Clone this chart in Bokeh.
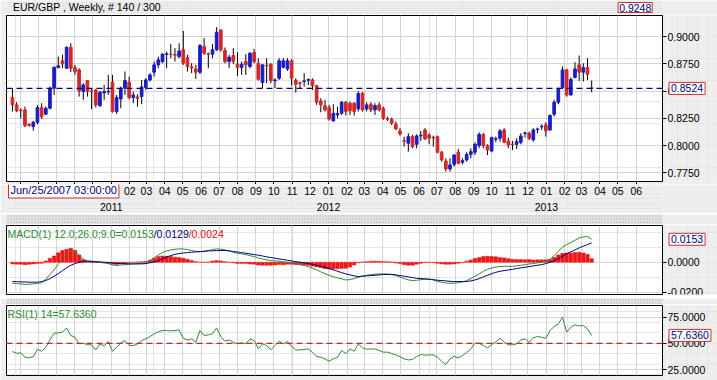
import pandas as pd
from bokeh.plotting import figure
from bokeh.layouts import column, row
from bokeh.models import (Range1d, LinearAxis, FixedTicker, Grid, Span, Label,
                          CustomJSTickFormatter, BoxAnnotation, ColumnDataSource)
from bokeh.core.properties import value
from bokeh.embed import file_html
from bokeh.resources import INLINE

# ---------------- data ----------------
symbol_title = "EUR/GBP , Weekly, # 140 / 300"
cursor_date = "Jun/25/2007 03:00:00"
top_price = "0.9248"
first_week = "2010-07-19"
view_start = "2010-07-09"
view_end = "2013-07-15"
first_month = "2010-08-01"
last_month = "2013-06-01"

open_ = [
    0.8440, 0.8373, 0.8325, 0.8327, 0.8195, 0.8174, 0.8214, 0.8348, 0.8287, 0.8342,
    0.8526, 0.8715, 0.8777, 0.8709, 0.8902, 0.8715, 0.8694, 0.8495, 0.8596, 0.8501,
    0.8510, 0.8366, 0.8483, 0.8492, 0.8581, 0.8312, 0.8428, 0.8526, 0.8581, 0.8440,
    0.8446, 0.8449, 0.8532, 0.8602, 0.8673, 0.8740, 0.8770, 0.8835, 0.8838, 0.8835,
    0.8816, 0.8878, 0.8807, 0.8722, 0.8703, 0.8673, 0.8908, 0.8844, 0.8838, 0.8878,
    0.9061, 0.8872, 0.8770, 0.8826, 0.8746, 0.8715, 0.8770, 0.8725, 0.8856, 0.8755,
    0.8578, 0.8737, 0.8746, 0.8593, 0.8617, 0.8718, 0.8703, 0.8777, 0.8599, 0.8575,
    0.8587, 0.8599, 0.8602, 0.8550, 0.8409, 0.8366, 0.8348, 0.8226, 0.8281, 0.8296,
    0.8397, 0.8388, 0.8388, 0.8336, 0.8480, 0.8336, 0.8379, 0.8327, 0.8373, 0.8342,
    0.8247, 0.8241, 0.8198, 0.8134, 0.8045, 0.8021, 0.8082, 0.8011, 0.8088, 0.8143,
    0.8097, 0.8076, 0.8082, 0.7938, 0.7858, 0.7785, 0.7828, 0.7938, 0.7846, 0.7867,
    0.7919, 0.7938, 0.7999, 0.8103, 0.7999, 0.7950, 0.8058, 0.8067, 0.8143, 0.8042,
    0.8014, 0.8011, 0.8030, 0.8110, 0.8113, 0.8051, 0.8146, 0.8171, 0.8189, 0.8143,
    0.8287, 0.8397, 0.8532, 0.8694, 0.8464, 0.8624, 0.8740, 0.8673, 0.8715, 0.8530]

close = [
    0.8373, 0.8321, 0.8318, 0.8183, 0.8183, 0.8214, 0.8348, 0.8265, 0.8342, 0.8526,
    0.8718, 0.8731, 0.8749, 0.8902, 0.8709, 0.8679, 0.8501, 0.8556, 0.8495, 0.8498,
    0.8373, 0.8489, 0.8495, 0.8498, 0.8312, 0.8440, 0.8526, 0.8596, 0.8440, 0.8464,
    0.8434, 0.8538, 0.8602, 0.8648, 0.8740, 0.8786, 0.8838, 0.8841, 0.8835, 0.8829,
    0.8868, 0.8755, 0.8725, 0.8712, 0.8673, 0.8917, 0.8847, 0.8838, 0.8878, 0.9040,
    0.8878, 0.8770, 0.8810, 0.8770, 0.8715, 0.8746, 0.8740, 0.8847, 0.8770, 0.8608,
    0.8740, 0.8731, 0.8596, 0.8602, 0.8777, 0.8777, 0.8777, 0.8617, 0.8562, 0.8569,
    0.8593, 0.8605, 0.8550, 0.8397, 0.8373, 0.8327, 0.8244, 0.8296, 0.8293, 0.8397,
    0.8312, 0.8318, 0.8312, 0.8477, 0.8327, 0.8373, 0.8327, 0.8366, 0.8327, 0.8250,
    0.8241, 0.8205, 0.8152, 0.8106, 0.8039, 0.8082, 0.7990, 0.8088, 0.8094, 0.8060,
    0.8067, 0.8070, 0.7938, 0.7868, 0.7785, 0.7822, 0.7913, 0.7837, 0.7861, 0.7919,
    0.7944, 0.8011, 0.8103, 0.7999, 0.7959, 0.8073, 0.8064, 0.8134, 0.8030, 0.8005,
    0.8008, 0.8036, 0.8088, 0.8116, 0.8067, 0.8143, 0.8152, 0.8177, 0.8134, 0.8275,
    0.8397, 0.8520, 0.8694, 0.8464, 0.8608, 0.8703, 0.8673, 0.8715, 0.8654, 0.8524]

high = [
    0.8526, 0.8397, 0.8342, 0.8357, 0.8204, 0.8226, 0.8373, 0.8388, 0.8357, 0.8541,
    0.8725, 0.8816, 0.8832, 0.8908, 0.8939, 0.8740, 0.8709, 0.8572, 0.8602, 0.8526,
    0.8519, 0.8501, 0.8556, 0.8648, 0.8648, 0.8464, 0.8541, 0.8679, 0.8633, 0.8495,
    0.8471, 0.8602, 0.8617, 0.8664, 0.8770, 0.8816, 0.8847, 0.8862, 0.8930, 0.8893,
    0.8939, 0.9052, 0.8832, 0.8755, 0.8740, 0.8930, 0.8985, 0.8853, 0.8930, 0.9086,
    0.9061, 0.8899, 0.8832, 0.8893, 0.8856, 0.8770, 0.8838, 0.8856, 0.8887, 0.8801,
    0.8746, 0.8801, 0.8755, 0.8617, 0.8801, 0.8801, 0.8801, 0.8792, 0.8617, 0.8587,
    0.8664, 0.8617, 0.8617, 0.8556, 0.8434, 0.8419, 0.8373, 0.8379, 0.8357, 0.8409,
    0.8409, 0.8403, 0.8397, 0.8501, 0.8489, 0.8397, 0.8397, 0.8388, 0.8397, 0.8357,
    0.8266, 0.8256, 0.8220, 0.8159, 0.8082, 0.8113, 0.8097, 0.8103, 0.8134, 0.8159,
    0.8113, 0.8091, 0.8091, 0.7950, 0.7883, 0.7883, 0.7919, 0.7969, 0.7883, 0.7938,
    0.7975, 0.8030, 0.8121, 0.8113, 0.8011, 0.8082, 0.8082, 0.8152, 0.8159, 0.8073,
    0.8042, 0.8067, 0.8113, 0.8128, 0.8128, 0.8159, 0.8165, 0.8195, 0.8214, 0.8287,
    0.8419, 0.8532, 0.8725, 0.8703, 0.8624, 0.8764, 0.8826, 0.8755, 0.8801, 0.8596]

low = [
    0.8312, 0.8306, 0.8250, 0.8168, 0.8174, 0.8137, 0.8195, 0.8244, 0.8281, 0.8333,
    0.8464, 0.8709, 0.8709, 0.8703, 0.8673, 0.8648, 0.8449, 0.8419, 0.8449, 0.8333,
    0.8348, 0.8354, 0.8419, 0.8464, 0.8302, 0.8290, 0.8342, 0.8464, 0.8425, 0.8388,
    0.8357, 0.8379, 0.8510, 0.8587, 0.8633, 0.8709, 0.8755, 0.8709, 0.8801, 0.8770,
    0.8801, 0.8740, 0.8679, 0.8664, 0.8611, 0.8654, 0.8832, 0.8709, 0.8801, 0.8868,
    0.8862, 0.8755, 0.8709, 0.8746, 0.8639, 0.8648, 0.8648, 0.8709, 0.8755, 0.8596,
    0.8526, 0.8572, 0.8572, 0.8526, 0.8602, 0.8709, 0.8685, 0.8550, 0.8486, 0.8520,
    0.8541, 0.8556, 0.8510, 0.8373, 0.8306, 0.8312, 0.8229, 0.8220, 0.8250, 0.8281,
    0.8275, 0.8281, 0.8275, 0.8312, 0.8312, 0.8312, 0.8306, 0.8281, 0.8312, 0.8235,
    0.8226, 0.8189, 0.8143, 0.8091, 0.7990, 0.7944, 0.7975, 0.7975, 0.8042, 0.8051,
    0.8011, 0.7990, 0.7929, 0.7852, 0.7761, 0.7761, 0.7806, 0.7828, 0.7828, 0.7852,
    0.7883, 0.7913, 0.7975, 0.7975, 0.7913, 0.7938, 0.8030, 0.8036, 0.8021, 0.7975,
    0.7959, 0.7969, 0.8011, 0.8073, 0.8051, 0.8036, 0.8113, 0.8143, 0.8082, 0.8134,
    0.8266, 0.8379, 0.8520, 0.8449, 0.8458, 0.8617, 0.8593, 0.8587, 0.8602, 0.8489]

macd = [
    -0.0140, -0.0142, -0.0144, -0.0147, -0.0147, -0.0144, -0.0142, -0.0136, -0.0113, -0.0082,
    -0.0051, -0.0013, 0.0022, 0.0051, 0.0073, 0.0071, 0.0049, 0.0022, 0.0009, 0.0004,
    0.0002, 0.0000, -0.0004, -0.0009, -0.0018, -0.0022, -0.0018, -0.0016, -0.0013, -0.0011,
    -0.0009, -0.0007, -0.0004, 0.0011, 0.0029, 0.0049, 0.0064, 0.0076, 0.0082, 0.0087,
    0.0089, 0.0089, 0.0084, 0.0078, 0.0073, 0.0071, 0.0073, 0.0078, 0.0084, 0.0089,
    0.0087, 0.0082, 0.0076, 0.0067, 0.0060, 0.0056, 0.0051, 0.0044, 0.0038, 0.0029,
    0.0022, 0.0016, 0.0011, 0.0009, 0.0007, 0.0002, 0.0000, -0.0004, -0.0011, -0.0016,
    -0.0022, -0.0029, -0.0040, -0.0051, -0.0064, -0.0076, -0.0087, -0.0096, -0.0104, -0.0111,
    -0.0118, -0.0116, -0.0109, -0.0100, -0.0091, -0.0087, -0.0082, -0.0080, -0.0078, -0.0078,
    -0.0078, -0.0080, -0.0089, -0.0098, -0.0109, -0.0118, -0.0122, -0.0120, -0.0116, -0.0113,
    -0.0113, -0.0118, -0.0127, -0.0133, -0.0138, -0.0140, -0.0140, -0.0136, -0.0131, -0.0122,
    -0.0109, -0.0093, -0.0078, -0.0060, -0.0047, -0.0038, -0.0031, -0.0029, -0.0027, -0.0027,
    -0.0027, -0.0024, -0.0020, -0.0016, -0.0011, -0.0009, -0.0004, 0.0000, 0.0007, 0.0020,
    0.0044, 0.0073, 0.0100, 0.0118, 0.0131, 0.0147, 0.0162, 0.0169, 0.0171, 0.0153]

signal = [
    -0.0129, -0.0129, -0.0131, -0.0131, -0.0133, -0.0133, -0.0133, -0.0129, -0.0122, -0.0109,
    -0.0093, -0.0076, -0.0056, -0.0036, -0.0020, -0.0009, 0.0000, 0.0004, 0.0007, 0.0007,
    0.0004, 0.0002, 0.0000, -0.0002, -0.0004, -0.0007, -0.0009, -0.0009, -0.0011, -0.0011,
    -0.0011, -0.0011, -0.0009, -0.0004, 0.0002, 0.0011, 0.0022, 0.0036, 0.0044, 0.0053,
    0.0058, 0.0062, 0.0064, 0.0067, 0.0069, 0.0071, 0.0073, 0.0076, 0.0076, 0.0078,
    0.0078, 0.0078, 0.0076, 0.0071, 0.0069, 0.0064, 0.0060, 0.0056, 0.0051, 0.0047,
    0.0042, 0.0036, 0.0031, 0.0027, 0.0022, 0.0018, 0.0013, 0.0009, 0.0004, 0.0000,
    -0.0004, -0.0009, -0.0013, -0.0020, -0.0027, -0.0033, -0.0042, -0.0051, -0.0060, -0.0069,
    -0.0078, -0.0084, -0.0091, -0.0096, -0.0093, -0.0091, -0.0089, -0.0087, -0.0084, -0.0082,
    -0.0082, -0.0082, -0.0084, -0.0089, -0.0093, -0.0098, -0.0102, -0.0107, -0.0109, -0.0111,
    -0.0113, -0.0116, -0.0120, -0.0122, -0.0124, -0.0127, -0.0129, -0.0129, -0.0129, -0.0129,
    -0.0124, -0.0118, -0.0109, -0.0098, -0.0087, -0.0076, -0.0067, -0.0060, -0.0056, -0.0051,
    -0.0047, -0.0042, -0.0038, -0.0033, -0.0029, -0.0024, -0.0020, -0.0016, -0.0009, 0.0000,
    0.0011, 0.0024, 0.0040, 0.0056, 0.0069, 0.0082, 0.0096, 0.0107, 0.0118, 0.0129]

rsi = [
    42.2, 40.6, 40.9, 36.8, 36.1, 37.4, 44.4, 42.5, 46.3, 53.3,
    59.7, 60.0, 60.7, 64.8, 57.5, 55.9, 49.5, 50.2, 48.6, 48.6,
    43.8, 49.5, 47.6, 51.8, 42.5, 46.3, 50.2, 52.7, 47.9, 47.9,
    49.5, 52.7, 54.3, 56.5, 59.1, 61.0, 62.3, 62.3, 61.9, 62.3,
    62.9, 54.9, 53.3, 54.3, 51.1, 62.3, 57.5, 58.1, 59.1, 64.8,
    56.5, 52.1, 53.3, 51.1, 49.5, 50.5, 49.5, 54.3, 52.7, 44.7,
    49.5, 47.9, 43.8, 47.9, 52.1, 49.5, 51.8, 47.0, 43.8, 43.8,
    44.1, 44.7, 41.6, 37.4, 36.8, 35.2, 33.0, 35.2, 36.8, 43.2,
    40.0, 44.7, 42.5, 49.5, 45.7, 44.4, 44.7, 44.7, 43.2, 41.6,
    41.6, 40.3, 39.0, 37.4, 35.2, 34.2, 34.6, 37.4, 39.3, 38.7,
    39.0, 39.0, 36.8, 33.0, 29.8, 35.2, 37.7, 36.1, 38.4, 41.2,
    44.7, 50.2, 50.2, 47.9, 45.7, 48.9, 51.4, 54.9, 51.1, 48.6,
    48.6, 49.5, 53.3, 54.3, 51.1, 55.3, 56.5, 55.9, 54.9, 62.3,
    66.1, 68.6, 75.0, 60.7, 65.4, 67.7, 66.7, 67.0, 63.9, 57.636]

price_ticks = [0.775, 0.800, 0.825, 0.850, 0.875, 0.900]
macd_ticks = [-0.02, 0.0]
rsi_ticks = [25, 50, 75]
rsi_level = 50
year_labels = ["2011", "2012", "2013"]
price_range = (0.7670, 0.9193)
macd_range = (-0.0215, 0.0245)
rsi_range = (19.3, 86.2)

# ---------------- style / layout ----------------
BG = "#eeeeee"
GRID = "#d4d4d4"
UP = "#1c1cc6"
DN = "#d42828"
GREEN = "#2e8b35"
NAVY = "#000080"
HIST = "#f01616"
BOXRED = "#c83232"
FONT = "Liberation Sans"
FS = "10.5px"
TOTAL_W = 717
LEFT = 6
RIGHT = 5
SIDE_W = 50
PW = TOTAL_W - SIDE_W          # width of each chart figure
FRAME_W = PW - LEFT - RIGHT    # 656
DAY = 86400000.0


def ms(t):
    return pd.Timestamp(t).value / 1e6


dates = pd.date_range(first_week, periods=len(close), freq="7D")
xs = [ms(d) for d in dates]
month_starts = pd.date_range(first_month, last_month, freq="MS")
mticks = [ms(d) for d in month_starts]
month_labels = [d.strftime("%m") for d in month_starts]
yticks = [ms(f"{y}-01-01") for y in year_labels]

x0, x1 = ms(view_start), ms(view_end)
xr = Range1d(x0, x1)
upx = (x1 - x0) / FRAME_W


def blank_fig(w, h, xrange, yrange, **kw):
    opts = dict(width=w, height=h, x_range=xrange, y_range=yrange,
                x_axis_location=None, y_axis_location=None, toolbar_location=None,
                output_backend="svg", background_fill_color=BG, border_fill_color=BG,
                outline_line_color=None, min_border=0)
    opts.update(kw)
    return figure(**opts)


def panel(h, yrange, ticks, top, bottom):
    yr = Range1d(*yrange)
    p = blank_fig(PW, h, xr, yr, min_border_left=LEFT, min_border_right=RIGHT,
                  min_border_top=top, min_border_bottom=bottom,
                  background_fill_color="white", outline_line_color="black",
                  outline_line_width=1)
    ax = LinearAxis(ticker=FixedTicker(ticks=ticks),
                    formatter=CustomJSTickFormatter(code="return ''"),
                    major_tick_in=0, major_tick_out=4, major_tick_line_color="black",
                    minor_tick_line_color=None, axis_line_color=None,
                    major_label_standoff=0, major_label_text_font_size="1px")
    p.add_layout(ax, "right")
    p.add_layout(Grid(dimension=1, ticker=FixedTicker(ticks=ticks), grid_line_color=GRID))
    p.add_layout(Grid(dimension=0, ticker=FixedTicker(ticks=mticks), grid_line_color=GRID))
    q = blank_fig(SIDE_W, h, Range1d(0, SIDE_W), yr, min_border_top=top,
                  min_border_bottom=bottom)
    q.text(x=[0] * len(ticks), y=ticks, text=[f"{t:.4f}" for t in ticks],
           text_font=value(FONT), text_font_size=FS, text_color="black",
           text_align="left", text_baseline="middle")
    return p, q


def value_box(q, y, text):
    q.add_layout(Label(x=1.5, y=y, text=text, text_baseline="middle", text_align="left",
                       text_font=FONT, text_font_size=FS, text_color=NAVY,
                       background_fill_color="white", border_line_color=BOXRED,
                       border_line_width=1, padding=2))


# ---------------- header ----------------
HDR_H = 14
hdr = blank_fig(TOTAL_W, HDR_H, Range1d(0, HDR_H * 0 + TOTAL_W), Range1d(0, HDR_H))
hdr.add_layout(Label(x=7, y=HDR_H / 2 + 0.5, text=symbol_title, text_baseline="middle",
                     text_align="left", text_font=FONT, text_font_size=FS,
                     text_color="black"))
hdr.add_layout(Label(x=PW + 1.5, y=HDR_H / 2, text=top_price, text_baseline="middle",
                     text_align="left", text_font=FONT, text_font_size=FS, text_color=NAVY,
                     background_fill_color="white", border_line_color=BOXRED,
                     border_line_width=1, padding=1))

# ---------------- price panel ----------------
p1, q1 = panel(170, price_range, price_ticks, 1, 3)
src = ColumnDataSource(dict(
    x=xs, high=high, low=low,
    top=[max(o, c) for o, c in zip(open_, close)],
    bottom=[min(o, c) for o, c in zip(open_, close)],
    color=[UP if c > o else DN for o, c in zip(open_, close)]))
p1.segment(x0="x", y0="high", x1="x", y1="low", source=src, line_color="black", line_width=1)
p1.vbar(x="x", width=4.5 * DAY, top="top", bottom="bottom", source=src,
        fill_color="color", line_color="color", line_width=1)
p1.add_layout(Span(location=close[-1], dimension="width", line_color=NAVY,
                   line_dash="6 4", line_width=1.3))
month_ticks_axis = LinearAxis(ticker=FixedTicker(ticks=mticks),
                              formatter=CustomJSTickFormatter(code="return ''"),
                              major_tick_in=0, major_tick_out=3, major_tick_line_color="black",
                              minor_tick_line_color=None, axis_line_color=None,
                              major_label_standoff=0, major_label_text_font_size="1px")
p1.add_layout(month_ticks_axis, "below")
value_box(q1, close[-1], f"{close[-1]:.4f}")

# ---------------- date labels band ----------------
XB_H = 29
xb = blank_fig(TOTAL_W, XB_H, xr, Range1d(0, XB_H), min_border_left=LEFT,
               min_border_right=TOTAL_W - LEFT - FRAME_W)
xb.text(x=mticks, y=[XB_H - 6] * len(mticks), text=month_labels, text_font=value(FONT),
        text_font_size=FS, text_color="black", text_align="center", text_baseline="middle")
xb.text(x=yticks, y=[XB_H - 22] * len(yticks), text=year_labels, text_font=value(FONT),
        text_font_size=FS, text_color="black", text_align="center", text_baseline="middle")
xb.add_layout(Label(x=x0 + 2 * upx, y=XB_H - 5.5, text=cursor_date, text_baseline="middle",
                    text_align="left", text_font=FONT, text_font_size="11px",
                    text_color=NAVY, background_fill_color="white",
                    border_line_color=BOXRED, border_line_width=1, padding=2))


# ---------------- separators ----------------
def strip(h):
    s = blank_fig(TOTAL_W, h, Range1d(0, 1), Range1d(0, 1))
    s.add_layout(BoxAnnotation(fill_color="#e4e4e4", fill_alpha=1, line_color=None,
                               hatch_pattern="dot", hatch_color="#b0b0b0",
                               hatch_scale=3, hatch_weight=1))
    return s


# ---------------- MACD panel ----------------
p2, q2 = panel(71, macd_range, macd_ticks, 1, 1)
upy2 = (macd_range[1] - macd_range[0]) / 69
hist = [m - s for m, s in zip(macd, signal)]
p2.vbar(x=xs, top=hist, bottom=0, width=6 * DAY, fill_color=HIST, line_color=HIST,
        line_width=0.5)
p2.line(xs, macd, line_color=GREEN, line_width=1)
p2.line(xs, signal, line_color=NAVY, line_width=1)
ty = macd_range[1] - 2 * upy2
t1 = f"MACD(1) 12.0;26.0;9.0={macd[-1]:.4f}"
t2 = f"/{signal[-1]:.4f}"
t3 = f"/{hist[-1]:.4f}"
for tx, txt, col in [(1, t1, GREEN), (1 + 146.2, t2, NAVY), (1 + 146.2 + 35.0, t3, "#e01010")]:
    p2.add_layout(Label(x=x0 + tx * upx, y=ty, text=txt, text_baseline="top",
                        text_align="left", text_font=FONT, text_font_size=FS,
                        text_color=col))
value_box(q2, macd[-1], f"{macd[-1]:.4f}")

# ---------------- RSI panel ----------------
p3, q3 = panel(76, rsi_range, rsi_ticks, 1, 5)
upy3 = (rsi_range[1] - rsi_range[0]) / 70
p3.add_layout(Span(location=rsi_level, dimension="width", line_color="#c02828",
                   line_dash="6 4", line_width=1.4))
p3.line(xs, rsi, line_color=GREEN, line_width=1)
p3.add_layout(Label(x=x0 + 1 * upx, y=rsi_range[1] - 2 * upy3, text=f"RSI(1) 14={rsi[-1]:.4f}",
                    text_baseline="top", text_align="left", text_font=FONT,
                    text_font_size=FS, text_color=GREEN))
value_box(q3, rsi[-1], f"{rsi[-1]:.4f}")

layout = column(hdr, row(p1, q1), xb, strip(11), row(p2, q2), strip(9), row(p3, q3))
open("out.html", "w").write(file_html(layout, INLINE))
